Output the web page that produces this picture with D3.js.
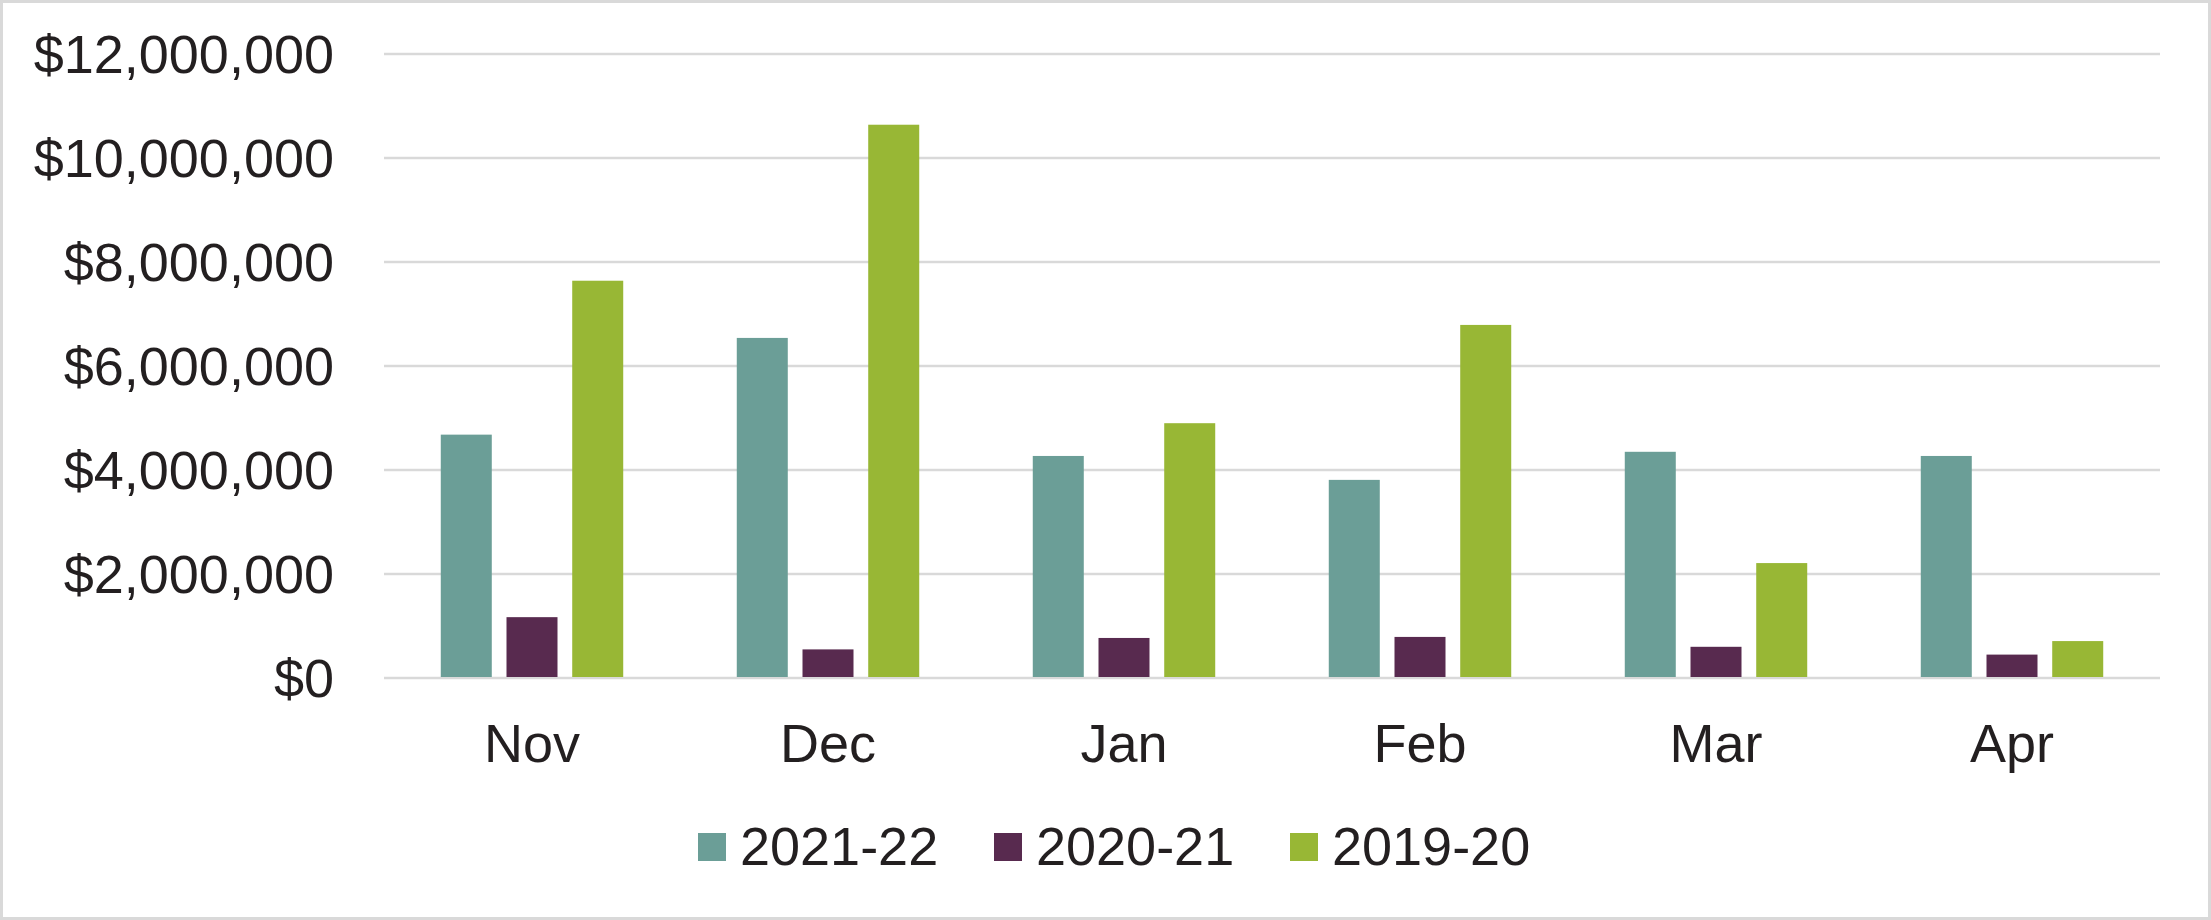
<!DOCTYPE html>
<html>
<head>
<meta charset="utf-8">
<script src="https://cdn.jsdelivr.net/npm/d3@7"></script>
<style>
  html, body { margin: 0; padding: 0; background: #fff; }
  svg { display: block; }
  text { font-family: "Liberation Sans", Arial, sans-serif; fill: #231F20; }
</style>
</head>
<body>
<script>
const categories = ["Nov", "Dec", "Jan", "Feb", "Mar", "Apr"];
const seriesNames = ["2021-22", "2020-21", "2019-20"];
const values2021_22 = [4680000, 6540000, 4270000, 3810000, 4350000, 4270000];
const values2020_21 = [1170000, 550000, 770000, 790000, 600000, 450000];
const values2019_20 = [7640000, 10640000, 4900000, 6790000, 2210000, 710000];
const seriesColors = ["#6B9E97", "#582A4F", "#98B735"];
const yTicks = [0, 2000000, 4000000, 6000000, 8000000, 10000000, 12000000];

const W = 2211, H = 920;
const svg = d3.select("body").append("svg").attr("width", W).attr("height", H);

// outer border
svg.append("rect").attr("x", 1.5).attr("y", 1.5).attr("width", W - 3).attr("height", H - 3)
  .attr("fill", "#fff").attr("stroke", "#D9D9D9").attr("stroke-width", 3);

const plot = { left: 384, right: 2160, top: 54, bottom: 678 };

const y = d3.scaleLinear().domain([0, 12000000]).range([plot.bottom, plot.top]);
const x0 = d3.scaleBand().domain(categories).range([plot.left, plot.right])
  .paddingInner(0.3836).paddingOuter(0.3836 / 2);
const x1 = d3.scaleBand().domain(seriesNames).range([0, x0.bandwidth()])
  .paddingInner(0.224).paddingOuter(0);

// gridlines
svg.append("g").selectAll("line").data(yTicks).join("line")
  .attr("x1", plot.left).attr("x2", plot.right)
  .attr("y1", d => y(d)).attr("y2", d => y(d))
  .attr("stroke", "#D9D9D9").attr("stroke-width", 2.5);

// y axis labels
const fmt = d3.format(",");
svg.append("g").selectAll("text").data(yTicks).join("text")
  .attr("x", 334).attr("y", d => y(d)).attr("dy", "0.35em")
  .attr("text-anchor", "end").attr("font-size", 54)
  .text(d => "$" + fmt(d));

// bars
const allSeries = [values2021_22, values2020_21, values2019_20];
const rows = [];
categories.forEach((c, i) => {
  seriesNames.forEach((s, j) => {
    rows.push({ cat: c, series: s, value: allSeries[j][i], color: seriesColors[j] });
  });
});
svg.append("g").selectAll("rect").data(rows).join("rect")
  .attr("x", d => x0(d.cat) + x1(d.series))
  .attr("width", x1.bandwidth())
  .attr("y", d => y(d.value))
  .attr("height", d => y(0) - y(d.value) - 1)
  .attr("fill", d => d.color);

// category labels
svg.append("g").selectAll("text").data(categories).join("text")
  .attr("x", d => x0(d) + x0.bandwidth() / 2).attr("y", 762)
  .attr("text-anchor", "middle").attr("font-size", 54)
  .text(d => d);

// legend
const legendStart = 698, legendStep = 296;
const lg = svg.append("g").selectAll("g").data(seriesNames).join("g")
  .attr("transform", (d, i) => `translate(${legendStart + i * legendStep},0)`);
lg.append("rect").attr("x", 0).attr("y", 833).attr("width", 28).attr("height", 28)
  .attr("fill", (d, i) => seriesColors[i]);
lg.append("text").attr("x", 42).attr("y", 865).attr("font-size", 54).text(d => d);
</script>
</body>
</html>
